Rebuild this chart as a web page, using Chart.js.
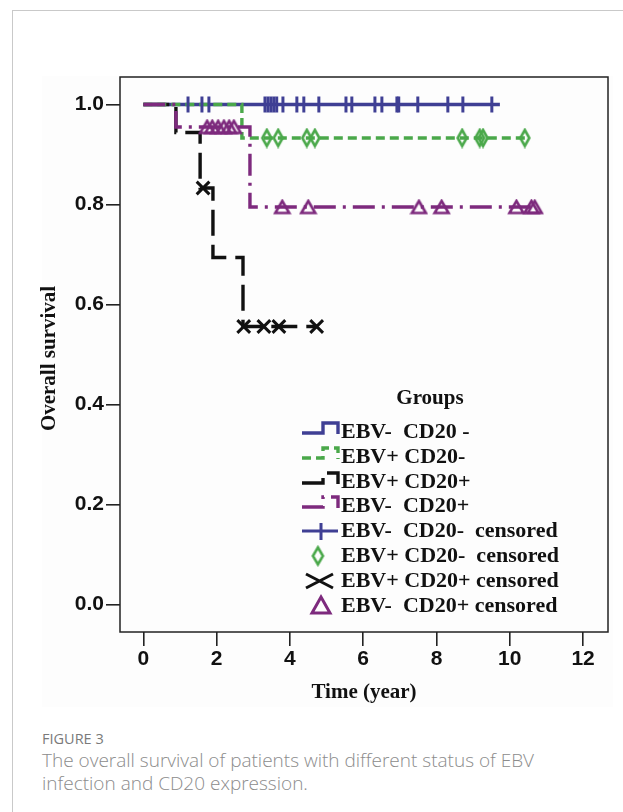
<!DOCTYPE html>
<html>
<head>
<meta charset="utf-8">
<script src="https://cdn.jsdelivr.net/npm/chart.js@4.4.1/dist/chart.umd.min.js"></script>
<style>
  html, body { margin: 0; padding: 0; background: #fff; }
  body { width: 623px; height: 812px; position: relative; overflow: hidden; }
  #card { position: absolute; left: 12px; top: 10px; width: 700px; height: 900px; border-left: 1px solid #c9c9c9; border-top: 1px solid #c9c9c9; }
  #figbg { position: absolute; left: 42px; top: 76px; width: 571px; height: 631px; background: #fdfdfd; }
  #wrap { position: absolute; left: 0; top: 0; width: 623px; height: 720px; }
  #caption { position: absolute; left: 42px; top: 728px; font-family: "Open Sans", sans-serif; color: #8c8c8c; }
  .fig { font-size: 14.5px; color: #7a7a7a; line-height: 21px; }
  .txt { font-size: 19px; line-height: 23px; font-weight: 300; }
</style>
</head>
<body>
<div id="card"></div>
<div id="figbg"></div>
<div id="wrap"><canvas id="kmChart" width="623" height="720"></canvas></div>
<div id="caption">
  <div class="fig">FIGURE 3</div>
  <div class="txt">The overall survival of patients with different status of EBV<br>infection and CD20 expression.</div>
</div>
<script>
const xTicks = [0, 2, 4, 6, 8, 10, 12];
const yTicks = [0, 0.2, 0.4, 0.6, 0.8, 1.0];

const groupNames = ['EBV-  CD20 -', 'EBV+ CD20-', 'EBV+ CD20+', 'EBV-  CD20+'];
const censorNames = ['EBV-  CD20-  censored', 'EBV+ CD20-  censored', 'EBV+ CD20+ censored', 'EBV-  CD20+ censored'];

// KM step curves: time of each step and survival after it
const blueTime = [0, 9.73];
const blueSurv = [1, 1];
const greenTime = [0, 2.69, 10.41];
const greenSurv = [1, 0.933, 0.933];
const blackTime = [0, 0.89, 1.55, 1.90, 2.72, 4.73];
const blackSurv = [1, 0.944, 0.833, 0.694, 0.556, 0.556];
const purpleTime = [0, 0.89, 2.91, 10.75];
const purpleSurv = [1, 0.955, 0.795, 0.795];

// censored times
const blueCens = [1.22, 1.60, 1.79, 3.32, 3.40, 3.48, 3.56, 3.64, 3.81, 4.19, 4.38, 4.79, 5.53, 5.69, 6.32, 6.51, 6.92, 6.97, 7.49, 8.31, 8.72, 9.51];
const greenCens = [3.37, 3.68, 4.46, 4.68, 8.70, 9.18, 9.27, 10.41];
const blackCens = [1.63, 2.74, 3.29, 3.70, 4.73];
const purpleCens = [1.74, 1.88, 2.04, 2.20, 2.34, 2.47, 3.79, 4.50, 7.52, 8.14, 10.18, 10.59, 10.68];

const BLUE = '#3f3f94';
const GREEN = '#4aa84a';
const BLACK = '#111111';
const PURPLE = '#7d2a7d';

const dashGreen = [9, 5];
const dashBlack = [26, 9];
const dashPurple = [22, 7, 3, 7];

function survAt(times, surv, t) {
    let s = surv[0];
    for (let i = 0; i < times.length; i++) {
        if (times[i] <= t) s = surv[i];
    }
    return s;
}

function curve(times, surv) {
    return times.map((t, i) => ({ x: t, y: surv[i] }));
}

function cens(list, times, surv) {
    return list.map(t => ({ x: t, y: survAt(times, surv, t) }));
}

// small canvases for the narrow diamond and the triangle
function diamondImg(w, h, lw) {
    const c = document.createElement('canvas');
    c.width = w + lw * 2; c.height = h + lw * 2;
    const g = c.getContext('2d');
    const cx = c.width / 2, cy = c.height / 2;
    g.strokeStyle = GREEN; g.lineWidth = lw; g.lineJoin = 'miter';
    g.beginPath();
    g.moveTo(cx, cy - h / 2); g.lineTo(cx + w / 2, cy); g.lineTo(cx, cy + h / 2); g.lineTo(cx - w / 2, cy);
    g.closePath(); g.stroke();
    return c;
}
function triangleImg(w, h, lw) {
    const c = document.createElement('canvas');
    c.width = w + lw * 2; c.height = h + lw * 2;
    const g = c.getContext('2d');
    const cx = c.width / 2, cy = c.height / 2;
    g.strokeStyle = PURPLE; g.lineWidth = lw;
    g.beginPath();
    g.moveTo(cx, cy - h / 2); g.lineTo(cx + w / 2, cy + h / 2); g.lineTo(cx - w / 2, cy + h / 2);
    g.closePath(); g.stroke();
    return c;
}
const diamondPt = diamondImg(9, 16, 2.6);
const trianglePt = triangleImg(14, 12, 2.6);

function lineSet(data, color, dash) {
    return {
        data: data, borderColor: color, borderWidth: 3.4, borderDash: dash,
        stepped: 'before', pointRadius: 0, fill: false, showLine: true
    };
}
function censSet(data, color, style, radius, rot) {
    return {
        data: data, borderColor: color, backgroundColor: 'rgba(0,0,0,0)', showLine: false,
        pointStyle: style, pointRadius: radius, pointBorderWidth: 3, pointRotation: rot || 0,
        pointHoverRadius: radius
    };
}

const kmExtras = {
    id: 'kmExtras',
    afterDraw(chart) {
        const ctx = chart.ctx;
        const a = chart.chartArea;
        ctx.save();
        // plot frame
        ctx.strokeStyle = '#222';
        ctx.lineWidth = 1.5;
        ctx.strokeRect(a.left, a.top, a.right - a.left, a.bottom - a.top);

        // axis titles
        ctx.fillStyle = '#111';
        ctx.font = 'bold 21px "Liberation Serif", serif';
        ctx.textAlign = 'center';
        ctx.textBaseline = 'middle';
        ctx.fillText('Time (year)', (a.left + a.right) / 2, 693);
        ctx.save();
        ctx.translate(50, (a.top + a.bottom) / 2 + 4);
        ctx.rotate(-Math.PI / 2);
        ctx.fillText('Overall survival', 0, 0);
        ctx.restore();

        // legend
        ctx.textBaseline = 'alphabetic';
        ctx.fillText('Groups', 430, 404);
        ctx.font = 'bold 22px "Liberation Serif", serif';
        ctx.textAlign = 'left';
        const base = [438, 463, 488, 512, 537, 562, 587, 612];
        const colors = [BLUE, GREEN, BLACK, PURPLE];
        const dashes = [[], dashGreen, dashBlack, dashPurple];
        for (let i = 0; i < 4; i++) {
            const yb = base[i] - 5, yt = base[i] - 15;
            ctx.strokeStyle = colors[i];
            ctx.lineWidth = 3.4;
            ctx.setLineDash(dashes[i]);
            ctx.beginPath();
            ctx.moveTo(302, yb); ctx.lineTo(323, yb); ctx.lineTo(323, yt); ctx.lineTo(338, yt); ctx.lineTo(338, yb + 1);
            ctx.stroke();
            ctx.setLineDash([]);
            ctx.fillStyle = '#111';
            ctx.fillText(groupNames[i], 341, base[i]);
        }
        // censored symbols
        let yc = base[4] - 6;
        ctx.strokeStyle = BLUE; ctx.lineWidth = 3;
        ctx.beginPath();
        ctx.moveTo(302, yc); ctx.lineTo(338, yc);
        ctx.moveTo(321, yc - 8); ctx.lineTo(321, yc + 9);
        ctx.stroke();
        yc = base[5] - 6;
        ctx.drawImage(diamondImg(10, 17, 2.6), 318 - 7.6, yc - 11.1);
        yc = base[6] - 6;
        ctx.strokeStyle = BLACK; ctx.lineWidth = 3;
        ctx.beginPath();
        ctx.moveTo(306, yc - 7); ctx.lineTo(333, yc + 7);
        ctx.moveTo(306, yc + 7); ctx.lineTo(333, yc - 7);
        ctx.stroke();
        yc = base[7] - 7;
        ctx.strokeStyle = PURPLE; ctx.lineWidth = 3;
        ctx.beginPath();
        ctx.moveTo(321, yc - 8); ctx.lineTo(330, yc + 8); ctx.lineTo(312, yc + 8);
        ctx.closePath(); ctx.stroke();
        ctx.fillStyle = '#111';
        for (let i = 0; i < 4; i++) {
            ctx.fillText(censorNames[i], 341, base[4 + i]);
        }
        ctx.restore();
    }
};

const tickFont = { family: '"Liberation Sans", Arial, sans-serif', size: 21, weight: 'bold' };

new Chart(document.getElementById('kmChart').getContext('2d'), {
    type: 'line',
    data: {
        datasets: [
            censSet(cens(blueCens, blueTime, blueSurv), BLUE, 'line', 8, 90),
            censSet(cens(greenCens, greenTime, greenSurv), GREEN, diamondPt, 8),
            censSet(cens(blackCens, blackTime, blackSurv), BLACK, 'crossRot', 9),
            censSet(cens(purpleCens, purpleTime, purpleSurv), PURPLE, trianglePt, 7),
            lineSet(curve(purpleTime, purpleSurv), PURPLE, dashPurple),
            lineSet(curve(greenTime, greenSurv), GREEN, dashGreen),
            lineSet(curve(blackTime, blackSurv), BLACK, dashBlack),
            lineSet(curve(blueTime, blueSurv), BLUE, [])
        ]
    },
    options: {
        responsive: false,
        animation: false,
        events: [],
        devicePixelRatio: 1,
        layout: { padding: { top: 77, right: 15, bottom: 38, left: 0 } },
        plugins: { legend: { display: false }, tooltip: { enabled: false } },
        scales: {
            x: {
                type: 'linear', min: -0.636, max: 12.68,
                afterBuildTicks: s => { s.ticks = xTicks.map(v => ({ value: v })); },
                afterFit: s => { s.height = 50; },
                ticks: { font: tickFont, color: '#111', padding: 1, maxRotation: 0, callback: v => String(v) },
                grid: { drawOnChartArea: false, drawTicks: true, tickLength: 14, color: '#222', lineWidth: 1.6 },
                border: { display: false }
            },
            y: {
                type: 'linear', min: -0.055, max: 1.055,
                afterBuildTicks: s => { s.ticks = yTicks.map(v => ({ value: v })); },
                afterFit: s => { s.width = 120; },
                ticks: { font: tickFont, color: '#111', padding: 2, callback: v => v.toFixed(1) },
                grid: { drawOnChartArea: false, drawTicks: true, tickLength: 14, color: '#222', lineWidth: 1.6 },
                border: { display: false }
            }
        }
    },
    plugins: [kmExtras]
});
</script>
</body>
</html>
